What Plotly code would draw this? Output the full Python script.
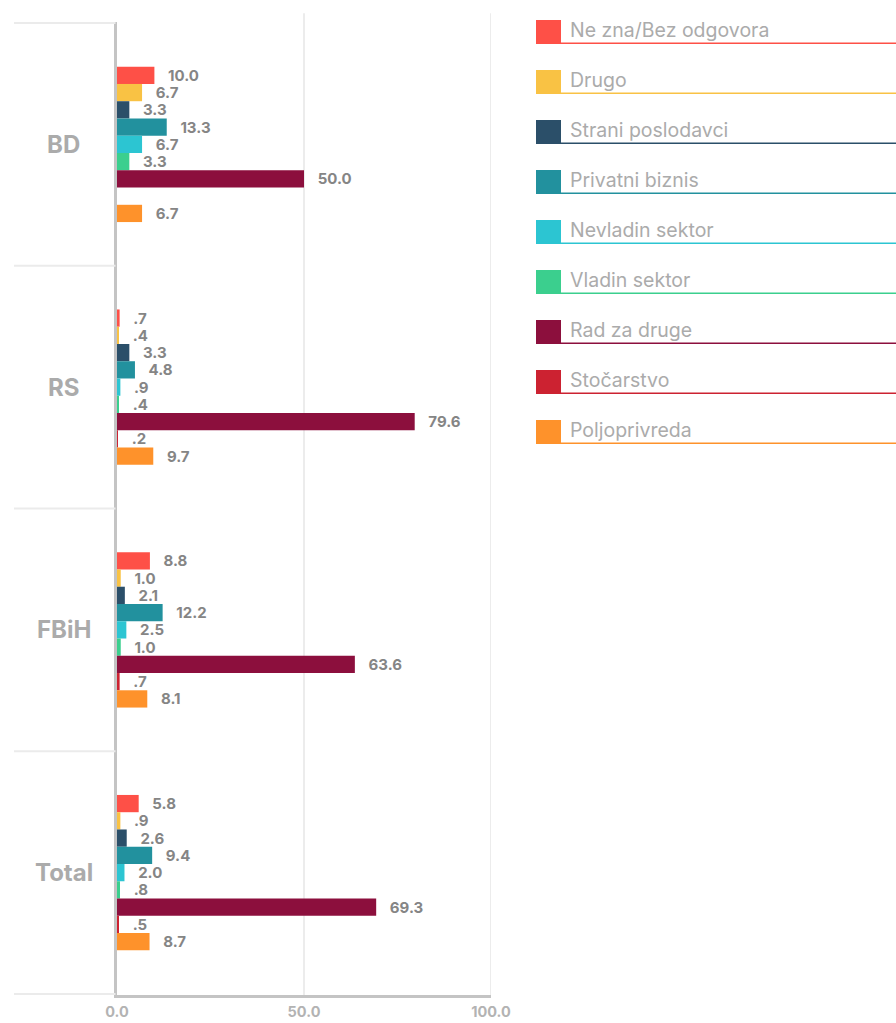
import plotly.graph_objects as go

# Regions (top to bottom) and occupation categories
regions = ["BD", "RS", "FBiH", "Total"]
series_names = [
    "Ne zna/Bez odgovora",
    "Drugo",
    "Strani poslodavci",
    "Privatni biznis",
    "Nevladin sektor",
    "Vladin sektor",
    "Rad za druge",
    "Stočarstvo",
    "Poljoprivreda",
]
series_colors = [
    "#fe5047", "#f9c244", "#2b4f69", "#22919e", "#2cc5d2",
    "#3bcf8e", "#8c0f3d", "#cc2231", "#fe922b",
]

# Percentages per category, in region order BD, RS, FBiH, Total
ne_zna = [10.0, 0.7, 8.8, 5.8]
drugo = [6.7, 0.4, 1.0, 0.9]
strani_poslodavci = [3.3, 3.3, 2.1, 2.6]
privatni_biznis = [13.3, 4.8, 12.2, 9.4]
nevladin_sektor = [6.7, 0.9, 2.5, 2.0]
vladin_sektor = [3.3, 0.4, 1.0, 0.8]
rad_za_druge = [50.0, 79.6, 63.6, 69.3]
stocarstvo = [None, 0.2, 0.7, 0.5]
poljoprivreda = [6.7, 9.7, 8.1, 8.7]

series_values = [
    ne_zna, drugo, strani_poslodavci, privatni_biznis, nevladin_sektor,
    vladin_sektor, rad_za_druge, stocarstvo, poljoprivreda,
]

x_ticks = [0, 50, 100]
x_tick_labels = ["0.0", "50.0", "100.0"]

FONT = "Inter"
LABEL_GREY = "#858585"
LIGHT_GREY = "#ababab"
W, H = 896, 1023
L, R, T, B = 117, 405, 22, 28


def fmt(v):
    if v is None:
        return ""
    s = f"{v:.1f}"
    if s.startswith("0."):
        s = s[1:]
    return "\u00a0\u00a0\u00a0" + s


fig = go.Figure()
for name, color, vals in zip(series_names, series_colors, series_values):
    fig.add_trace(go.Bar(
        y=regions,
        x=vals,
        name=name,
        orientation="h",
        marker=dict(color=color, line=dict(width=0)),
        text=[fmt(v) for v in vals],
        textposition="outside",
        constraintext="none",
        cliponaxis=False,
        textfont=dict(family=FONT, size=15, color=LABEL_GREY, weight="bold"),
        showlegend=False,
    ))

shapes = []
# light vertical gridlines, slightly taller than the plot
for gx in [50, 100]:
    shapes.append(dict(type="line", xref="x", yref="paper", x0=gx, x1=gx,
                       y0=0, y1=1.009, line=dict(color="#e6e6e6", width=1.5),
                       layer="below"))
# separators between region bands, drawn in the label area
plot_w = W - L - R
plot_h = H - T - B
for i in range(len(regions) + 1):
    shapes.append(dict(type="line", xref="paper", yref="y",
                       x0=(14 - L) / plot_w, x1=-0.004,
                       y0=i - 0.5, y1=i - 0.5,
                       line=dict(color="#ebebeb", width=2)))

annotations = []
# region labels centred in the label area
for r in regions:
    annotations.append(dict(xref="paper", yref="y", x=(64 - L) / plot_w, y=r,
                            text=r, showarrow=False, xanchor="center",
                            yanchor="middle",
                            font=dict(family=FONT, size=24, color=LIGHT_GREY,
                                      weight="bold")))

# legend: coloured square, grey label and an underline in the series colour
sq_left, sq_right = 536, 561
for k, (name, color) in enumerate(zip(series_names, series_colors)):
    bottom = 44 + 50 * k
    top = bottom - 24
    x0p = (sq_left - L) / plot_w
    x1p = (sq_right - L) / plot_w
    y0p = 1 - (bottom - T) / plot_h
    y1p = 1 - (top - T) / plot_h
    shapes.append(dict(type="rect", xref="paper", yref="paper",
                       x0=x0p, x1=x1p, y0=y0p, y1=y1p,
                       fillcolor=color, line=dict(width=0)))
    yl = 1 - (bottom - 0.8 - T) / plot_h
    shapes.append(dict(type="line", xref="paper", yref="paper",
                       x0=x1p, x1=(W - L) / plot_w, y0=yl, y1=yl,
                       line=dict(color=color, width=1.6)))
    annotations.append(dict(xref="paper", yref="paper",
                            x=(568 - L) / plot_w,
                            y=1 - (bottom - 0 - T) / plot_h,
                            text=name, showarrow=False,
                            xanchor="left", yanchor="bottom",
                            font=dict(family=FONT, size=19.5, color=LIGHT_GREY)))

fig.update_layout(
    width=W, height=H,
    margin=dict(l=L, r=R, t=T, b=B, pad=0),
    paper_bgcolor="white",
    plot_bgcolor="white",
    barmode="group",
    bargap=0.36,
    bargroupgap=0,
    showlegend=False,
    shapes=shapes,
    annotations=annotations,
    xaxis=dict(
        range=[0, 100],
        tickvals=x_ticks,
        ticktext=x_tick_labels,
        showgrid=False,
        zeroline=False,
        showline=True,
        linecolor="#c4c4c4",
        linewidth=3,
        ticks="outside",
        ticklen=2,
        tickcolor="rgba(0,0,0,0)",
        tickfont=dict(family=FONT, size=14.5, color="#b3b3b3", weight="bold"),
        automargin=False,
        fixedrange=True,
    ),
    yaxis=dict(
        autorange="reversed",
        showticklabels=False,
        showgrid=False,
        zeroline=False,
        showline=True,
        linecolor="#c4c4c4",
        linewidth=3,
        ticks="",
        automargin=False,
        fixedrange=True,
    ),
)

fig.write_html("out.html")
